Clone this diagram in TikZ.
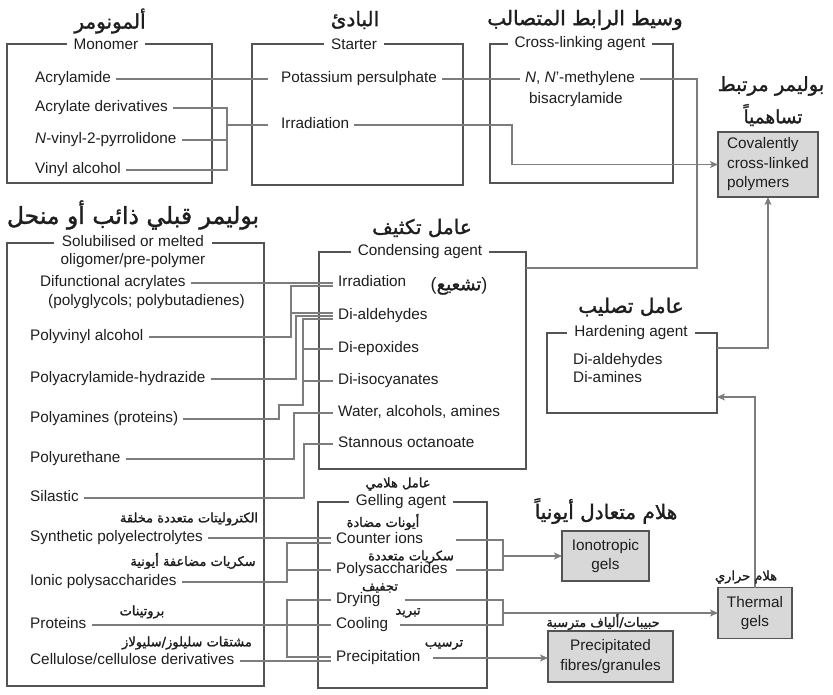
\documentclass[tikz,border=0pt]{standalone}
\usepackage{fontspec}
\setmainfont{Liberation Sans}
\newfontfamily\arabicfont[Script=Arabic,FakeBold=1.5]{DejaVu Sans}
\TeXXeTstate=1
\usetikzlibrary{arrows.meta}
\definecolor{framegray}{RGB}{84,84,84}
\definecolor{linkgray}{RGB}{125,125,125}
\definecolor{resgray}{RGB}{216,216,216}
\definecolor{inkgray}{RGB}{30,30,30}

\tikzset{
  boxframe/.style={draw=framegray, line width=1.9pt, inner sep=0pt, outer sep=0pt},
  frametitle/.style={fill=white, inner xsep=7pt, inner ysep=1pt},
  item/.style={anchor=west, inner xsep=5pt, inner ysep=1pt, text height=11pt, text depth=3.5pt},
  result/.style={draw=framegray, line width=1.9pt, fill=resgray, align=center, inner sep=0pt, outer sep=0pt},
  link/.style={draw=linkgray, line width=1.1pt},
  arr/.style={link, -{Stealth[length=8pt,width=7pt,inset=2pt]}},
  arhead/.style={font=\arabicfont\fontsize{20}{24}\selectfont},
  arsmall/.style={font=\arabicfont\fontsize{13}{16}\selectfont},
}

\begin{document}
\begin{tikzpicture}[x=1pt,y=-1pt,font=\fontsize{15.3}{19.5}\selectfont,text=inkgray]
\useasboundingbox (0,0) rectangle (833,695);

% frames
\node[boxframe, minimum width=205pt, minimum height=139pt] (monbox) at (109.5,113.5) {};
\node[boxframe, minimum width=211pt, minimum height=141pt] (stbox) at (357.5,114.5) {};
\node[boxframe, minimum width=183pt, minimum height=139pt] (clbox) at (581.5,113.5) {};
\node[boxframe, minimum width=257pt, minimum height=443pt] (solbox) at (135.5,464.5) {};
\node[boxframe, minimum width=207pt, minimum height=217pt] (condbox) at (422.5,360.5) {};
\node[boxframe, minimum width=170pt, minimum height=80pt] (hardbox) at (632,373) {};
\node[boxframe, minimum width=169pt, minimum height=186pt] (gelbox) at (402.5,595) {};

% monomer and starter
\node[item] (acryl) at (30,79) {Acrylamide};
\node[item] (acder) at (30,108) {Acrylate derivatives};
\node[item] (nvp) at (30,140) {\textit{N}-vinyl-2-pyrrolidone};
\node[item] (valc) at (30,170) {Vinyl alcohol};
\node[item] (kps) at (276,79) {Potassium persulphate};
\node[item] (irrst) at (276,125) {Irradiation};
\node[item,anchor=center] (mba) at (580,79) {\textit{N}, \textit{N}'-methylene};
\node[item,anchor=center] (mbab) at (576,100) {bisacrylamide};
\node[result, minimum width=100pt, minimum height=65pt, align=left] (cov) at (768,164.5) {Covalently\\cross-linked\\polymers};

% oligomer/pre-polymer
\node[item] (diff) at (35,283) {Difunctional acrylates};
\node[item] (diffb) at (43,302) {(polyglycols; polybutadienes)};
\node[item] (pva) at (25,337) {Polyvinyl alcohol};
\node[item] (pah) at (25,379) {Polyacrylamide-hydrazide};
\node[item] (pam) at (25,419) {Polyamines (proteins)};
\node[item] (pur) at (25,459) {Polyurethane};
\node[item] (sil) at (25,498) {Silastic};
\node[item] (spe) at (25,538) {Synthetic polyelectrolytes};
\node[item] (ips) at (25,582) {Ionic polysaccharides};
\node[item] (prot) at (25,625) {Proteins};
\node[item] (cell) at (25,661) {Cellulose/cellulose derivatives};

% condensing and hardening agents
\node[item] (irrad) at (333,283) {Irradiation};
\node[item] (dald) at (333,316) {Di-aldehydes};
\node[item] (dep) at (333,349) {Di-epoxides};
\node[item] (dis) at (333,381) {Di-isocyanates};
\node[item] (wat) at (333,413) {Water, alcohols, amines};
\node[item] (stan) at (333,444) {Stannous octanoate};
\node[item] (hald) at (568,361) {Di-aldehydes};
\node[item] (hami) at (568,379) {Di-amines};

% gelling agent and gels
\node[item] (counter) at (331,540) {Counter ions};
\node[item] (psac) at (331,570) {Polysaccharides};
\node[item] (dry) at (331,600) {Drying};
\node[item] (cool) at (331,625) {Cooling};
\node[item] (prec) at (331,658) {Precipitation};
\node[result, minimum width=87pt, minimum height=50pt] (iono) at (605.5,556) {Ionotropic\\gels};
\node[result, minimum width=74pt, minimum height=51pt] (therm) at (755,613) {Thermal\\gels};
\node[result, minimum width=125pt, minimum height=51pt] (pbox) at (610.5,656.5) {Precipitated\\fibres/granules};

% junctions
\coordinate (jm) at (227,125);
\coordinate (jirr) at (512,164.5);
\coordinate (jmba) at (697,268);
\coordinate (jhard) at (768,348);
\coordinate (jtherm) at (755,397);
\coordinate (jion) at (503,556);
\coordinate (jtg) at (503,613);

% top row links
\draw[link] (acryl.east) -- ([xshift=-8pt]kps.west);
\draw[link] (acder.east) -| (jm) |- (valc.east);
\draw[link] (nvp.east) -- (nvp.east -| jm);
\draw[link] (jm) -- ([xshift=-8pt]irrst.west);
\draw[link] (kps.east) -- (mba.west);
\draw[arr] (irrst.east) -| (jirr) -- (cov.west);
\draw[link] (mba.east) -| (jmba) -- (condbox.east |- jmba);
\draw[arr] (hardbox.east |- jhard) -| (cov.south);
\draw[arr] (therm.north) |- (hardbox.east |- jtherm);

% condensing links
\draw[link] (diff.east) -- (irrad.west);
\draw[link] (pva.east) -| (291,286) -- ([yshift=-3pt]irrad.west);
\draw[link] (291,313) -- ([yshift=3pt]dald.west);
\draw[link] (pah.east) -| (296,316) -- (dald.west);
\draw[link] (pam.east) -| (279,405) -| (303,319) -- ([yshift=-3pt]dald.west);
\draw[link] (303,349) -- (dep.west);
\draw[link] (303,381) -- (dis.west);
\draw[link] (pur.east) -| (294,413) -- (wat.west);
\draw[link] (sil.east) -| (304,444) -- (stan.west);

% gelling links
\draw[link] (spe.east) -- ([yshift=2pt]counter.west);
\draw[link] (ips.east) -| (287,543) -- ([yshift=-3pt]counter.west);
\draw[link] (287,570) -- (psac.west);
\draw[link] (prot.east) -- (cool.west);
\draw[link] (dry.west) -| (287,657) -- ([yshift=1pt]prec.west);
\draw[link] (cell.east) -- ([yshift=-3pt]prec.west);
\draw[link] ([xshift=28pt]counter.east) -| (jion) |- ([xshift=3pt]psac.east);
\draw[arr] (jion) -- (iono.west);
\draw[link] ([xshift=19pt]dry.east) -| (jtg) |- ([xshift=7pt]cool.east);
\draw[arr] (jtg) -- (therm.west);
\draw[arr] ([xshift=7pt]prec.east) -- (prec.east -| pbox.west);

% frame titles
\node[frametitle] (montitle) at (106,44) {Monomer};
\node[frametitle] (sttitle) at (354,44) {Starter};
\node[frametitle] (cltitle) at (580,44) {Cross-linking agent};
\node[frametitle, align=center, font=\fontsize{15.3}{18}\selectfont] (soltitle) at (133,252) {Solubilised or melted\\oligomer/pre-polymer};
\node[frametitle] (condtitle) at (420,252) {Condensing agent};
\node[frametitle] (hardtitle) at (631,333) {Hardening agent};
\node[frametitle] (geltitle) at (401,502) {Gelling agent};

% arabic labels
\node[arhead] (armon) at (110,21) {\beginR ألمونومر\endR};
\node[arhead] (arstart) at (355,20) {\beginR البادئ\endR};
\node[arhead] (arcl) at (585,20) {\beginR وسيط الرابط المتصالب\endR};
\node[arhead, font=\arabicfont\fontsize{19.5}{23}\selectfont] (arcov) at (771,86) {\beginR بوليمر مرتبط\endR};
\node[arhead, font=\arabicfont\fontsize{18.5}{22}\selectfont] (arcovb) at (773,115) {\beginR تساهمياً\endR};
\node[arhead, font=\arabicfont\fontsize{23.5}{28}\selectfont] (arsol) at (133,215) {\beginR بوليمر قبلي ذائب أو منحل\endR};
\node[arhead] (arcond) at (422,228) {\beginR عامل تكثيف\endR};
\node[arhead, font=\arabicfont\fontsize{18}{22}\selectfont] (arirr) at (459,286) {{\rmfamily(}\beginR تشعيع\endR{\rmfamily)}};
\node[arhead] (arhard) at (631,307) {\beginR عامل تصليب\endR};
\node[arhead] (ariono) at (606,511) {\beginR هلام متعادل أيونياً\endR};
\node[arsmall] (argel) at (398,484) {\beginR عامل هلامي\endR};
\node[arsmall] (arcounter) at (383,522) {\beginR أيونات مضادة\endR};
\node[arsmall] (arpsac) at (411,557) {\beginR سكريات متعددة\endR};
\node[arsmall] (ardry) at (380,588) {\beginR تجفيف\endR};
\node[arsmall] (arcool) at (408,613) {\beginR تبريد\endR};
\node[arsmall] (arprec) at (444,645) {\beginR ترسيب\endR};
\node[arsmall] (artherm) at (746,577) {\beginR هلام حراري\endR};
\node[arsmall] (arpbox) at (603,622) {\beginR حبيبات/ألياف مترسبة\endR};
\node[arsmall] (arspe) at (189,519) {\beginR الكتروليتات متعددة مخلقة\endR};
\node[arsmall] (arips) at (193,561) {\beginR سكريات مضاعفة أيونية\endR};
\node[arsmall] (arprot) at (142,612) {\beginR بروتينات\endR};
\node[arsmall] (arcell) at (187,643) {\beginR مشتقات سليلوز/سليولاز\endR};
\end{tikzpicture}
\end{document}
